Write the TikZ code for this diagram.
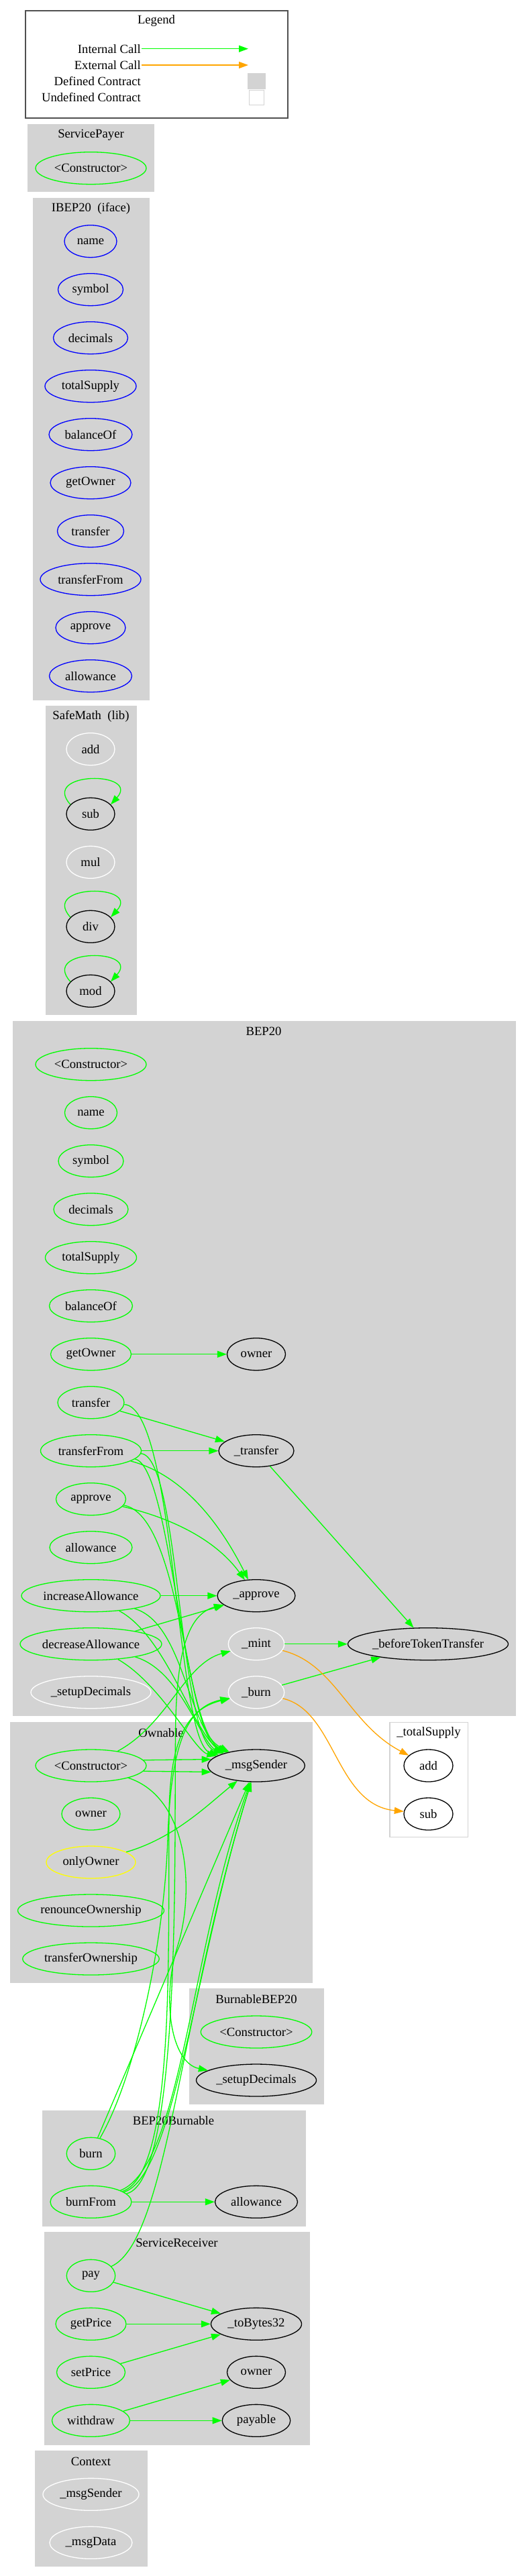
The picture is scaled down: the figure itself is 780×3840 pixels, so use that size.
\documentclass[tikz,border=0pt]{standalone}
\usepackage{fontspec}
\setmainfont{Liberation Serif}
\usetikzlibrary{shapes.geometric,arrows.meta}
\definecolor{gvgreen}{HTML}{00FF00}
\definecolor{gvorange}{HTML}{FFA500}
\definecolor{gvblue}{HTML}{0000FF}
\definecolor{gvyellow}{HTML}{FFFF00}
\definecolor{gvgray}{HTML}{D3D3D3}
\definecolor{lgborder}{HTML}{505050}
\tikzset{
  fn/.style={ellipse, draw=gvgreen, line width=1.3pt, minimum height=48pt, inner sep=0pt, text=black},
  ifn/.style={fn, draw=gvblue},
  wfn/.style={fn, draw=white},
  bfn/.style={fn, draw=black},
  yfn/.style={fn, draw=gvyellow},
  mw/.style={minimum width=#1},
  ttl/.style={inner sep=0pt},
  icall/.style={draw=gvgreen, line width=1.3pt, -{Triangle[length=14pt,width=10pt]}},
  xcall/.style={draw=gvorange, line width=1.3pt, -{Triangle[length=14pt,width=10pt]}},
  clus/.style={fill=gvgray, draw=gvgray, line width=1pt}
}
\begin{document}
\begin{tikzpicture}[x=1pt, y=-1pt, font=\fontsize{18.67}{22}\selectfont]
\useasboundingbox (0,0) rectangle (780,3840);
\fill[white] (0,0) rectangle (780,3840);

% ---------------- Legend ----------------
\draw[draw=lgborder, line width=2pt] (37.5,16) rectangle (429,176);
\node[ttl] (lgT) at (233,31.5) {Legend};
\node[anchor=east, inner sep=1pt] (lgI) at (211,72.7) {Internal Call};
\node[anchor=east, inner sep=1pt] (lgE) at (211,97) {External Call};
\node[anchor=east, inner sep=1pt] (lgD) at (211,121) {Defined Contract};
\node[anchor=east, inner sep=1pt] (lgU) at (211,145) {Undefined Contract};
\coordinate (lgI2) at (370,72.7);
\coordinate (lgE2) at (370,97);
\draw[icall] (lgI.east) -- (lgI2);
\draw[xcall] (lgE.east) -- (lgE2);
\node[fill=gvgray, minimum width=26.5pt, minimum height=24pt, inner sep=0pt] (lgDbox) at (382.3,121) {};
\node[draw=gvgray, line width=1pt, minimum width=22pt, minimum height=22pt, inner sep=0pt] (lgUbox) at (382,146) {};

% ---------------- Clusters ----------------
\path[clus] (41,186) rectangle (229.5,285.7);
\path[clus] (49,295) rectangle (222,1043);
\path[clus] (68,1052.7) rectangle (203.7,1512.3);
\path[clus] (19,1522) rectangle (768.5,2557.7);
\path[clus] (15.5,2567.3) rectangle (465.5,2955);
\draw[draw=gvgray, line width=1.3pt, fill=white] (581,2567.7) rectangle (697.5,2738.3);
\path[clus] (282,2964.7) rectangle (482.5,3136.3);
\path[clus] (63.5,3146.3) rectangle (455,3318);
\path[clus] (66.5,3327.7) rectangle (461,3644);
\path[clus] (52.5,3653.8) rectangle (219,3825.5);

\node[ttl] (tSP) at (135.5,201) {ServicePayer};
\node[ttl] (tIB) at (135.5,310.7) {IBEP20\ \ (iface)};
\node[ttl] (tSM) at (135.5,1067.9) {SafeMath\ \ (lib)};
\node[ttl] (tBE) at (393,1537) {BEP20};
\node[ttl] (tOW) at (240,2583.3) {Ownable};
\node[ttl] (tTS) at (639,2583.3) {\_totalSupply};
\node[ttl] (tBB) at (382,2980) {BurnableBEP20};
\node[ttl] (tBU) at (258.5,3161) {BEP20Burnable};
\node[ttl] (tSR) at (263.5,3343.6) {ServiceReceiver};
\node[ttl] (tCX) at (135.5,3669.2) {Context};

% ---------------- ServicePayer ----------------
\node[fn, mw=165pt] (spC) at (135.5,250.7) {<Constructor>};

% ---------------- IBEP20 ----------------
\node[ifn, mw=78pt]  (iNA) at (135,359.7) {name};
\node[ifn, mw=97pt]  (iSY) at (135,431.7) {symbol};
\node[ifn, mw=111pt] (iDE) at (135,503.7) {decimals};
\node[ifn, mw=136pt] (iTS) at (135,575.7) {totalSupply};
\node[ifn, mw=124pt] (iBO) at (135,647.7) {balanceOf};
\node[ifn, mw=120pt] (iGO) at (135,719.7) {getOwner};
\node[ifn, mw=99pt]  (iTR) at (135,791.7) {transfer};
\node[ifn, mw=150pt] (iTF) at (135,863.7) {transferFrom};
\node[ifn, mw=104pt] (iAP) at (135,935.7) {approve};
\node[ifn, mw=123pt] (iAL) at (135,1007.7) {allowance};

% ---------------- SafeMath ----------------
\node[wfn, mw=72pt] (sADD) at (135,1116.7) {add};
\node[bfn, mw=72pt] (sSUB) at (135,1213.3) {sub};
\node[wfn, mw=72pt] (sMUL) at (135,1285.3) {mul};
\node[bfn, mw=72pt] (sDIV) at (135,1381.3) {div};
\node[bfn, mw=72pt] (sMOD) at (135,1477.3) {mod};

% ---------------- BEP20 ----------------
\node[fn, mw=165pt] (bC)  at (135.5,1586.7) {<Constructor>};
\node[fn, mw=78pt]  (bNA) at (135.5,1658.7) {name};
\node[fn, mw=97pt]  (bSY) at (135.5,1730.7) {symbol};
\node[fn, mw=111pt] (bDE) at (135.5,1802.7) {decimals};
\node[fn, mw=136pt] (bTS) at (135.5,1874.7) {totalSupply};
\node[fn, mw=124pt] (bBO) at (135.5,1946.7) {balanceOf};
\node[fn, mw=120pt] (bGO) at (135.5,2018.7) {getOwner};
\node[fn, mw=99pt]  (bTR) at (135.5,2090.7) {transfer};
\node[fn, mw=150pt] (bTF) at (135.5,2162.7) {transferFrom};
\node[fn, mw=104pt] (bAP) at (135.5,2234.7) {approve};
\node[fn, mw=123pt] (bAL) at (135.5,2306.7) {allowance};
\node[fn, mw=207pt] (bIA) at (135.5,2378.7) {increaseAllowance};
\node[fn, mw=211pt] (bDA) at (135.5,2450.7) {decreaseAllowance};
\node[wfn, mw=179pt] (bSD) at (135.5,2522.7) {\_setupDecimals};
\node[bfn, mw=87pt]  (bOW) at (382,2018.7) {owner};
\node[bfn, mw=112pt] (bXT) at (382,2162.7) {\_transfer};
\node[bfn, mw=116pt] (bXA) at (382,2378.7) {\_approve};
\node[wfn, mw=83.5pt] (bMI) at (382,2450.7) {\_mint};
\node[wfn, mw=83.5pt] (bBU) at (382,2522.7) {\_burn};
\node[bfn, mw=239pt] (bBT) at (638,2450.7) {\_beforeTokenTransfer};

% ---------------- Ownable ----------------
\node[fn, mw=165pt] (oC)  at (135.5,2632) {<Constructor>};
\node[fn, mw=87pt]  (oOW) at (135.5,2704) {owner};
\node[yfn, mw=133pt] (oOO) at (135.5,2776) {onlyOwner};
\node[fn, mw=218pt] (oRO) at (135.5,2848) {renounceOwnership};
\node[fn, mw=203.5pt] (oTO) at (135.5,2920) {transferOwnership};
\node[bfn, mw=144.5pt] (oMS) at (382,2632) {\_msgSender};

% ---------------- _totalSupply ----------------
\node[bfn, mw=73pt] (tADD) at (638.5,2632) {add};
\node[bfn, mw=73pt] (tSUB) at (638.5,2704) {sub};

% ---------------- BurnableBEP20 ----------------
\node[fn, mw=165.5pt] (kC) at (382,3029) {<Constructor>};
\node[bfn, mw=179pt] (kSD) at (382,3101) {\_setupDecimals};

% ---------------- BEP20Burnable ----------------
\node[fn, mw=72.5pt] (uBU) at (135.5,3210.3) {burn};
\node[fn, mw=121pt]  (uBF) at (135.5,3282.3) {burnFrom};
\node[bfn, mw=123pt] (uAL) at (382,3282.3) {allowance};

% ---------------- ServiceReceiver ----------------
\node[fn, mw=72.5pt] (rPA) at (135.5,3392.3) {pay};
\node[fn, mw=105pt]  (rGP) at (135.5,3464.3) {getPrice};
\node[fn, mw=102pt]  (rSP) at (135.5,3536.3) {setPrice};
\node[fn, mw=116pt]  (rWD) at (135.5,3608.3) {withdraw};
\node[bfn, mw=135pt] (rTB) at (382,3464.3) {\_toBytes32};
\node[bfn, mw=87pt]  (rOW) at (382,3536.3) {owner};
\node[bfn, mw=101.5pt] (rPY) at (382,3608.3) {payable};

% ---------------- Context ----------------
\node[wfn, mw=143pt] (cMS) at (135.5,3718.3) {\_msgSender};
\node[wfn, mw=123pt] (cMD) at (135.5,3790.3) {\_msgData};

% ---------------- Edges ----------------
% SafeMath self loops
\draw[icall] (sSUB.155) .. controls +(-45,-50) and +(45,-50) .. (sSUB.25);
\draw[icall] (sDIV.155) .. controls +(-45,-50) and +(45,-50) .. (sDIV.25);
\draw[icall] (sMOD.155) .. controls +(-45,-50) and +(45,-50) .. (sMOD.25);

% BEP20 straight
\draw[icall] (bGO) -- (bOW);
\draw[icall] (bTR) -- (bXT);
\draw[icall] (bTF) -- (bXT);
\draw[icall] (bIA) -- (bXA);
\draw[icall] (bDA) -- (bXA);
\draw[icall] (bXT) -- (bBT);
\draw[icall] (bMI) -- (bBT);
\draw[icall] (bBU) -- (bBT);

% BEP20 curves to _approve
\draw[icall] (bTF) .. controls (280,2200) and (335,2285) .. (bXA);
\draw[icall] (bAP) .. controls (265,2265) and (325,2300) .. (bXA);

% BEP20 curves to _msgSender (top)
\draw[icall] (bTR) .. controls (262,2098) and (262,2598) .. (oMS);
\draw[icall] (bTF) .. controls (268,2170) and (266,2590) .. (oMS);
\draw[icall] (bTF) .. controls (255,2185) and (272,2580) .. (oMS);
\draw[icall] (bAP) .. controls (272,2260) and (276,2585) .. (oMS);
\draw[icall] (bIA) .. controls (275,2420) and (280,2580) .. (oMS);
\draw[icall] (bIA) .. controls (250,2440) and (290,2590) .. (oMS);
\draw[icall] (bDA) .. controls (270,2490) and (300,2600) .. (oMS);
\draw[icall] (bDA) .. controls (240,2510) and (290,2610) .. (oMS);

% External calls
\draw[xcall] (bMI) .. controls (500,2480) and (520,2570) .. (tADD);
\draw[xcall] (bBU) .. controls (500,2550) and (500,2690) .. (tSUB);

% Ownable
\draw[icall] (oC.6.5) -- (oMS.172.6);
\draw[icall] (oC.-6.5) -- (oMS.-172.6);
\draw[icall] (oC) .. controls (250,2570) and (275,2480) .. (bMI);
\coordinate (via1) at (265,2900);
\draw[icall] (oC) .. controls (282,2680) and (290,2820) .. (via1) .. controls (240,2980) and (255,3075) .. (kSD);
\draw[icall] (oOO) .. controls (260,2740) and (310,2690) .. (oMS);

% BEP20Burnable
\draw[icall] (uBU) -- (oMS);
\coordinate (via2) at (250,2740);
\draw[icall] (uBU) .. controls (200,3100) and (245,2900) .. (via2) .. controls (255,2600) and (278,2545) .. (bBU);
\draw[icall] (uBF) -- (uAL);
\draw[icall] (uBF) .. controls (270,3230) and (285,2900) .. (oMS);
\draw[icall] (uBF) .. controls (260,3245) and (292,2920) .. (oMS);
\coordinate (via3) at (262,2560);
\draw[icall] (uBF) .. controls (275,3250) and (258,2700) .. (via3) .. controls (265,2450) and (285,2405) .. (bXA);
\coordinate (via4) at (252,2700);
\draw[icall] (uBF) .. controls (262,3240) and (250,2900) .. (via4) .. controls (254,2600) and (275,2548) .. (bBU);

% ServiceReceiver
\draw[icall] (rPA) .. controls (250,3340) and (268,3000) .. (oMS);
\draw[icall] (rPA) -- (rTB);
\draw[icall] (rGP) -- (rTB);
\draw[icall] (rSP) -- (rTB);
\draw[icall] (rWD) -- (rOW);
\draw[icall] (rWD) -- (rPY);
\end{tikzpicture}
\end{document}
